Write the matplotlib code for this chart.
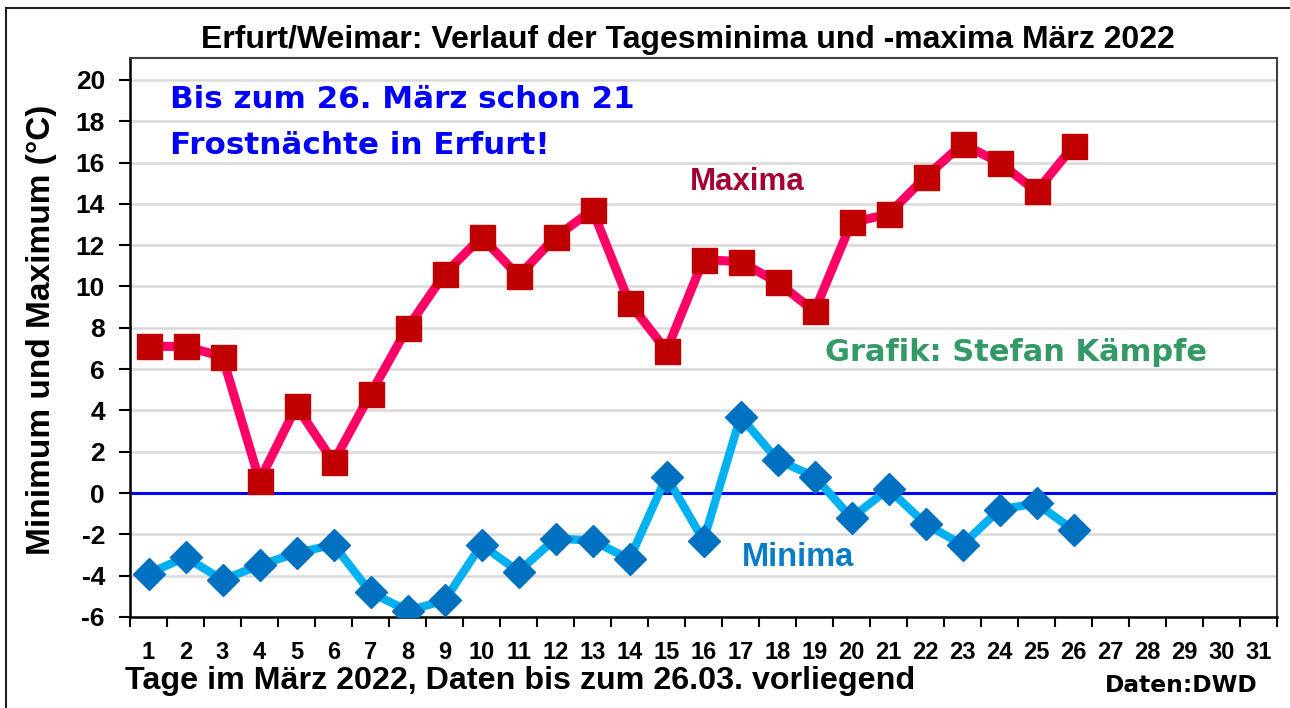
import matplotlib
matplotlib.use("Agg")
import matplotlib.pyplot as plt
from matplotlib.lines import Line2D

days = list(range(1, 32))
data_days = list(range(1, 27))
maxima = [7.1, 7.1, 6.6, 0.6, 4.2, 1.5, 4.8, 8.0, 10.6, 12.4, 10.5, 12.4, 13.7,
          9.2, 6.9, 11.3, 11.2, 10.2, 8.8, 13.1, 13.5, 15.3, 16.9, 16.0, 14.6, 16.8]
minima = [-3.9, -3.1, -4.2, -3.5, -2.9, -2.5, -4.8, -5.7, -5.2, -2.5, -3.8, -2.2, -2.3,
          -3.2, 0.8, -2.3, 3.7, 1.6, 0.8, -1.2, 0.2, -1.5, -2.5, -0.8, -0.5, -1.8]
yticks = list(range(-6, 21, 2))

title = "Erfurt/Weimar: Verlauf der Tagesminima und -maxima März 2022"
xlabel = "Tage im März 2022, Daten bis zum 26.03. vorliegend"
ylabel = "Minimum und Maximum (°C)"

ARIAL = "Liberation Sans"
WIDE = "DejaVu Sans"

fig = plt.figure(figsize=(12.9, 7.08), dpi=100)
ax = fig.add_axes([130 / 1290, (708 - 617) / 708, (1277 - 130) / 1290, (617 - 58) / 708])

ax.set_xlim(0.5, 31.5)
ax.set_ylim(-6, 21.06)

for y in yticks:
    if y != 0:
        ax.axhline(y, color="#d9d9d9", lw=1.8, zorder=1)
ax.axhline(0, color="#0000ff", lw=2.2, zorder=2)

ax.plot(data_days, maxima, color="#ff0066", lw=6.5, zorder=3,
        marker="s", markersize=18, markerfacecolor="#c00000", markeredgecolor="#c00000")
ax.plot(data_days, minima, color="#00b0f0", lw=6, zorder=3,
        marker="D", markersize=16, markerfacecolor="#0070c0", markeredgecolor="#0070c0")

ax.set_yticks(yticks)
ax.set_yticklabels([str(v) for v in yticks], fontfamily=ARIAL, fontweight="bold", fontsize=19)
ax.set_xticks(days)
ax.set_xticklabels([str(d) for d in days], fontfamily=ARIAL, fontweight="bold", fontsize=17)
ax.set_xticks([d + 0.5 for d in range(0, 32)], minor=True)
ax.tick_params(axis="x", which="major", length=0, pad=17)
ax.tick_params(axis="x", which="minor", length=7, width=1.5, direction="out")
ax.tick_params(axis="y", length=8, width=1.5, direction="out", pad=10)

for s in ["left", "bottom"]:
    ax.spines[s].set_linewidth(1.8)
for s in ["top", "right"]:
    ax.spines[s].set_linewidth(1.5)
    ax.spines[s].set_color("#404040")

fig.text(42 / 1290, 1 - 330 / 708, ylabel, ha="center", va="center", rotation=90,
         fontfamily=ARIAL, fontweight="bold", fontsize=24)

fig.text(688 / 1290, 1 - 40 / 708, title, ha="center", va="center", fontfamily=ARIAL,
         fontweight="bold", fontsize=23)
fig.text(125 / 1290, 1 - 681 / 708, xlabel, ha="left", va="center", fontfamily=ARIAL,
         fontweight="bold", fontsize=23.2)
fig.text(1105 / 1290, 1 - 686 / 708, "Daten:DWD", ha="left", va="center", fontfamily=WIDE,
         fontweight="bold", fontsize=16.8)

fig.text(170 / 1290, 1 - 100 / 708, "Bis zum 26. März schon 21", ha="left", va="center",
         fontfamily=WIDE, fontweight="bold", fontsize=22.3, color="#0000ff")
fig.text(170 / 1290, 1 - 145 / 708, "Frostnächte in Erfurt!", ha="left", va="center",
         fontfamily=WIDE, fontweight="bold", fontsize=22.3, color="#0000ff")
fig.text(690 / 1290, 1 - 182 / 708, "Maxima", ha="left", va="center",
         fontfamily=ARIAL, fontweight="bold", fontsize=22.5, color="#a50034")
fig.text(825 / 1290, 1 - 352 / 708, "Grafik: Stefan Kämpfe", ha="left", va="center",
         fontfamily=WIDE, fontweight="bold", fontsize=22, color="#339966")
fig.text(742 / 1290, 1 - 558 / 708, "Minima", ha="left", va="center",
         fontfamily=ARIAL, fontweight="bold", fontsize=23.5, color="#0a7cc8")

fig.add_artist(Line2D([6 / 1290, 6 / 1290], [0, 1 - 8 / 708], transform=fig.transFigure,
                      color="#202020", lw=1.5))
fig.add_artist(Line2D([6 / 1290, 1], [1 - 8 / 708, 1 - 8 / 708], transform=fig.transFigure,
                      color="#202020", lw=1.5))

fig.savefig("out.png", dpi=100)
